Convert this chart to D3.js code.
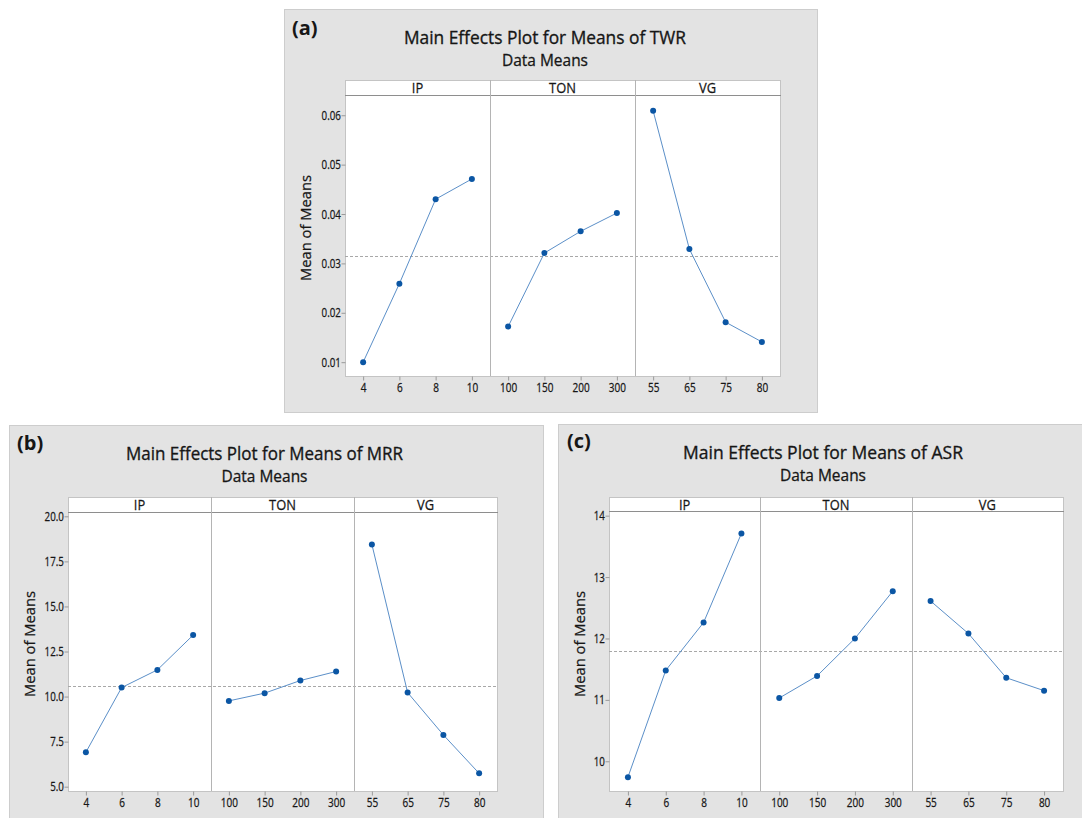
<!DOCTYPE html>
<html>
<head>
<meta charset="utf-8">
<script src="https://cdn.jsdelivr.net/npm/d3@7"></script>
<style>
  html, body { margin: 0; padding: 0; background: #ffffff; }
  svg { display: block; font-family: "Open Sans", "Noto Sans", sans-serif; }
</style>
</head>
<body>
<svg id="chart" width="1082" height="818"></svg>
<script>
// ---------------- DATA ----------------
const factors = ["IP", "TON", "VG"];
const levelsIP = ["4", "6", "8", "10"];
const levelsTON = ["100", "150", "200", "300"];
const levelsVG = ["55", "65", "75", "80"];

// (a) TWR
const twrIP = [0.0100, 0.0259, 0.0430, 0.0471];
const twrTON = [0.0172, 0.0321, 0.0365, 0.0402];
const twrVG = [0.0609, 0.0329, 0.0181, 0.0141];
const twrMean = 0.0316;
const twrTicks = [0.01, 0.02, 0.03, 0.04, 0.05, 0.06];

// (b) MRR
const mrrIP = [6.91, 10.50, 11.48, 13.41];
const mrrTON = [9.76, 10.19, 10.89, 11.39];
const mrrVG = [18.44, 10.22, 7.87, 5.74];
const mrrMean = 10.59;
const mrrTicks = [5.0, 7.5, 10.0, 12.5, 15.0, 17.5, 20.0];

// (c) ASR
const asrIP = [9.74, 11.48, 12.26, 13.71];
const asrTON = [11.03, 11.39, 12.00, 12.77];
const asrVG = [12.61, 12.08, 11.36, 11.15];
const asrMean = 11.80;
const asrTicks = [10, 11, 12, 13, 14];

const panelTags = ["(a)", "(b)", "(c)"];
const titles = ["Main Effects Plot for Means of TWR", "Main Effects Plot for Means of MRR", "Main Effects Plot for Means of ASR"];
const subtitle = "Data Means";
const yLabel = "Mean of Means";

// ---------------- LAYOUT ----------------
const svg = d3.select("#chart");
const levels = [levelsIP, levelsTON, levelsVG];

const panels = [
  { tag: panelTags[0], title: titles[0], series: [twrIP, twrTON, twrVG], mean: twrMean, ticks: twrTicks, fmt: d3.format(".2f"),
    bg: [284, 9, 533, 403], l: 345, r: 780, t: 80, strip: 15, b: 376, dom: [0.0072, 0.0641],
    titleX: 545, titleY: 43.5, titleW: 282, subY: 66, tagX: 292, tagY: 35, ylabX: 306 },
  { tag: panelTags[1], title: titles[1], series: [mrrIP, mrrTON, mrrVG], mean: mrrMean, ticks: mrrTicks, fmt: d3.format(".1f"),
    bg: [9, 425, 534, 400], l: 68, r: 497, t: 497, strip: 15, b: 791, dom: [4.76, 20.24],
    titleX: 264.5, titleY: 459.5, titleW: 277, subY: 482, tagX: 17, tagY: 450, ylabX: 30 },
  { tag: panelTags[2], title: titles[2], series: [asrIP, asrTON, asrVG], mean: asrMean, ticks: asrTicks, fmt: d3.format("d"),
    bg: [558, 424, 530, 400], l: 609, r: 1063, t: 497, strip: 14, b: 791, dom: [9.516, 14.076],
    titleX: 823, titleY: 458.5, titleW: 280, subY: 481, tagX: 567, tagY: 448, ylabX: 580 }
];

const lineColor = "#5b8fc8";
const dotColor = "#0b56a4";
const frameColor = "#c4c4c4";
const ink = "#161616";

panels.forEach(p => {
  const g = svg.append("g");
  // background
  g.append("rect").attr("x", p.bg[0] + 0.5).attr("y", p.bg[1] + 0.5)
    .attr("width", p.bg[2]).attr("height", p.bg[3])
    .attr("fill", "#e3e3e3").attr("stroke", "#cdcdcd");

  // tag
  g.append("text").attr("x", p.tagX).attr("y", p.tagY)
    .attr("font-size", 20).attr("font-weight", "bold").attr("fill", ink).text(p.tag);

  // title / subtitle
  g.append("text").attr("x", p.titleX).attr("y", p.titleY).attr("text-anchor", "middle")
    .attr("font-size", 19).attr("fill", ink).attr("stroke", ink).attr("stroke-width", 0.35)
    .attr("textLength", p.titleW).attr("lengthAdjust", "spacingAndGlyphs").text(p.title);
  g.append("text").attr("x", p.titleX).attr("y", p.subY).attr("text-anchor", "middle")
    .attr("font-size", 15.5).attr("fill", ink).attr("stroke", ink).attr("stroke-width", 0.3)
    .attr("textLength", 86).attr("lengthAdjust", "spacingAndGlyphs").text(subtitle);

  const top = p.t + p.strip;
  const y = d3.scaleLinear().domain(p.dom).range([p.b, top]);
  const fw = (p.r - p.l) / 3;

  // frame
  g.append("rect").attr("x", p.l + 0.5).attr("y", p.t + 0.5)
    .attr("width", p.r - p.l).attr("height", p.b - p.t)
    .attr("fill", "#ffffff").attr("stroke", frameColor);

  // strip bottom line
  g.append("line").attr("x1", p.l).attr("x2", p.r + 1)
    .attr("y1", top + 0.5).attr("y2", top + 0.5).attr("stroke", "#8e8e8e");

  // mean dashed line
  g.append("line").attr("x1", p.l).attr("x2", p.r)
    .attr("y1", Math.round(y(p.mean)) + 0.5).attr("y2", Math.round(y(p.mean)) + 0.5)
    .attr("stroke", "#a8a8a8").attr("stroke-dasharray", "3,2");

  // y axis
  const ya = g.append("g").attr("transform", `translate(${p.l + 0.5},0)`)
    .call(d3.axisLeft(y).tickValues(p.ticks).tickFormat(p.fmt).tickSize(4).tickPadding(2));
  ya.select(".domain").remove();
  ya.selectAll("line").attr("stroke", "#9a9a9a");
  ya.selectAll("text").attr("font-size", 12.5).attr("fill", ink)
    .attr("stroke", ink).attr("stroke-width", 0.25)
    .attr("font-family", "'Open Sans', sans-serif")
    .attr("transform", "scale(0.78,1)");

  // y label
  g.append("text")
    .attr("transform", `translate(${p.ylabX},${(p.t + p.b) / 2}) rotate(-90)`)
    .attr("text-anchor", "middle").attr("dy", "0.35em")
    .attr("font-size", 15).attr("fill", ink).attr("stroke", ink).attr("stroke-width", 0.25)
    .attr("textLength", 106).attr("lengthAdjust", "spacingAndGlyphs").text(yLabel);

  factors.forEach((f, i) => {
    const x0 = p.l + fw * i, x1 = p.l + fw * (i + 1);
    const x = d3.scalePoint().domain(levels[i]).range([x0, x1]).padding(0.5);

    // divider
    if (i > 0) {
      g.append("line").attr("x1", Math.round(x0) + 0.5).attr("x2", Math.round(x0) + 0.5)
        .attr("y1", p.t).attr("y2", p.b).attr("stroke", "#b4b4b4");
    }
    // strip label
    g.append("text").attr("transform", `translate(${(x0 + x1) / 2},${p.t + 12.5}) scale(0.86,1)`)
      .attr("text-anchor", "middle").attr("font-size", 15).attr("fill", ink)
      .attr("stroke", ink).attr("stroke-width", 0.25).text(f);

    // x axis
    const xa = g.append("g").attr("transform", `translate(0,${p.b + 0.5})`)
      .call(d3.axisBottom(x).tickSize(4).tickPadding(3));
    xa.select(".domain").remove();
    xa.selectAll("line").attr("stroke", "#9a9a9a");
    xa.selectAll("text").attr("font-size", 12.5).attr("fill", ink)
      .attr("stroke", ink).attr("stroke-width", 0.25)
      .attr("font-family", "'Open Sans', sans-serif")
      .attr("transform", "scale(0.8,1)");

    // line + points
    const vals = p.series[i];
    const pts = levels[i].map((lv, k) => [x(lv), y(vals[k])]);
    g.append("path").attr("d", d3.line()(pts))
      .attr("fill", "none").attr("stroke", lineColor).attr("stroke-width", 1);
    g.selectAll(null).data(pts).enter().append("circle")
      .attr("cx", d => d[0]).attr("cy", d => d[1]).attr("r", 3)
      .attr("fill", dotColor);
  });
});
</script>
</body>
</html>
